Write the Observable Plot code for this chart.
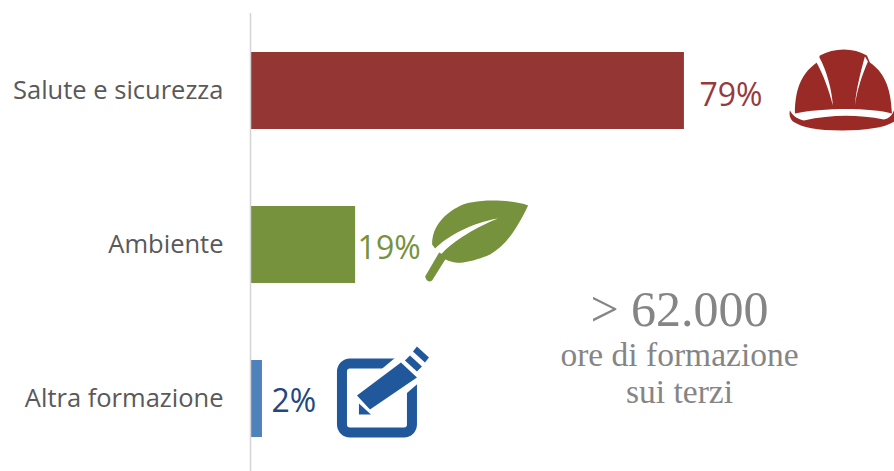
<!DOCTYPE html>
<html>
<head>
<meta charset="utf-8">
<script src="https://cdn.jsdelivr.net/npm/d3@7"></script>
<script src="https://cdn.jsdelivr.net/npm/@observablehq/plot@0.6"></script>
<style>
  html, body { margin: 0; padding: 0; background: #fff; }
  svg { display: block; }
</style>
</head>
<body>
<div id="chart"></div>
<script>
const categories = ["Salute e sicurezza", "Ambiente", "Altra formazione"];
const shares = [79, 19, 2];
const barColors = ["#943634", "#76923c", "#4f81bd"];
const labelColors = ["#983a3c", "#76923c", "#1f497d"];
const calloutLines = ["> 62.000", "ore di formazione", "sui terzi"];

const rows = categories.map((category, i) => ({
  category, share: shares[i], bar: barColors[i], label: labelColors[i]
}));

// Pictograms in local units, centred on their own origin
const helmet = {
  at: 0, dx: 158, color: "#9a2a26",
  shapes: [
    "M-47,23C-47,-5 -38,-19 -25,-28L-22,-35C-8,-43 12,-43 25,-35L28,-28C41,-19 49,-5 50,23C30,17 -20,17 -47,23Z",
    "M-52,20C-49,25 -46,28 -38,30C-10,24 15,24 42,29C47,28 50,25 52,20L54,30C45,37 25,40 0,40C-25,40 -40,37 -49,31C-52,28 -53,24 -52,20Z"
  ],
  cuts: [
    "M-26,-29L-23,-34C-15,-20 -10,0 -9,15C-13,0 -18,-15 -26,-29Z",
    "M26,-29L23,-34C19,-20 14,0 13,15C15,0 20,-15 26,-29Z"
  ]
};
const leaf = {
  at: 1, dx: 122, color: "#76923c",
  shapes: [
    "M51,-39C35,-45 -5,-47 -20,-37C-33,-30 -45,-18 -45,0L-42,4C-30,-8 -5,-22 21,-26C0,-18 -25,-3 -36,10L-34,14C-25,18 -20,19 -14,18C0,16 13,10 13,10C28,1 38,-12 51,-39Z",
    "M-52,32L-38,8L-30,12L-45,36Q-50,39 -52,32Z"
  ],
  cuts: []
};
const notepad = {
  at: 2, dx: 115, color: "#20589b",
  shapes: [],
  frame: true,
  cuts: []
};

function pictogram(icon) {
  return (index, {x, y}) => {
    const row = rows[icon.at];
    const g = d3.create("svg:g")
      .attr("transform", `translate(${x(row.share) + icon.dx},${y(row.category) + y.bandwidth() / 2})`);
    for (const d of icon.shapes) g.append("path").attr("d", d).attr("fill", icon.color);
    for (const d of icon.cuts) g.append("path").attr("d", d).attr("fill", "#fff");
    if (icon.frame) {
      g.append("rect").attr("x", -35).attr("y", -35).attr("width", 70).attr("height", 69)
        .attr("rx", 8).attr("fill", "none").attr("stroke", icon.color).attr("stroke-width", 10);
      // White halo that opens the frame behind the pencil
      g.append("path").attr("d", "M-26,-4L21,-43L30,-55L56,-40L41,-15L-4,24L-26,24Z").attr("fill", "#fff");
      g.append("path").attr("d", "M-20,-3L24,-36L40,-21L-7,11Z").attr("fill", icon.color);
      g.append("path").attr("d", "M-18,5L-6,16L-18,16Z").attr("fill", icon.color);
      g.append("path").attr("d", "M28,-38L33,-43L45,-32L40,-27Z").attr("fill", icon.color);
      g.append("path").attr("d", "M36,-47L40,-52L52,-41L48,-36Z").attr("fill", icon.color);
    }
    return g.node();
  };
}

// Value labels sit at their own distance from each bar
const valueLabel = (i, dx, dy) => Plot.text([rows[i]], {
  x: "share", y: "category", text: d => `${d.share}%`, fill: "label",
  textAnchor: "start", dx, dy, fontSize: 32
});

// Callout lines are placed relative to the top-left corner of the frame
const callout = (i, dy, fontSize) => Plot.text([calloutLines[i]], {
  text: d => d, frameAnchor: "top-left", dx: 428, dy, lineAnchor: "middle", textAnchor: "middle",
  fontFamily: "'Liberation Serif', serif", fontSize, fill: "#858585"
});

const chart = Plot.plot({
  width: 894,
  height: 471,
  marginTop: 13,
  marginBottom: 0,
  marginLeft: 251,
  marginRight: 0,
  style: {background: "#fff", fontFamily: "'Open Sans', sans-serif"},
  x: {domain: [0, 100], range: [251, 799], axis: null},
  y: {domain: categories, range: [13, 475], paddingInner: 0.5, paddingOuter: 0.25, axis: null},
  marks: [
    Plot.barX(rows, {x: "share", y: "category", fill: "bar"}),
    Plot.ruleX([0], {stroke: "#d4d4d4", strokeWidth: 1.5, dx: -1}),
    Plot.axisY({
      tickSize: 0, tickPadding: 28, fontSize: 25.5, color: "#595959", label: null,
      anchor: "left", fontFamily: "'Open Sans', sans-serif"
    }),
    valueLabel(0, 15, 5),
    valueLabel(1, 2, 4),
    valueLabel(2, 9, 3),
    pictogram(helmet),
    pictogram(leaf),
    pictogram(notepad),
    callout(0, 296, 50),
    callout(1, 342, 33.5),
    callout(2, 379, 33.5)
  ]
});
document.getElementById("chart").append(chart);
</script>
</body>
</html>
